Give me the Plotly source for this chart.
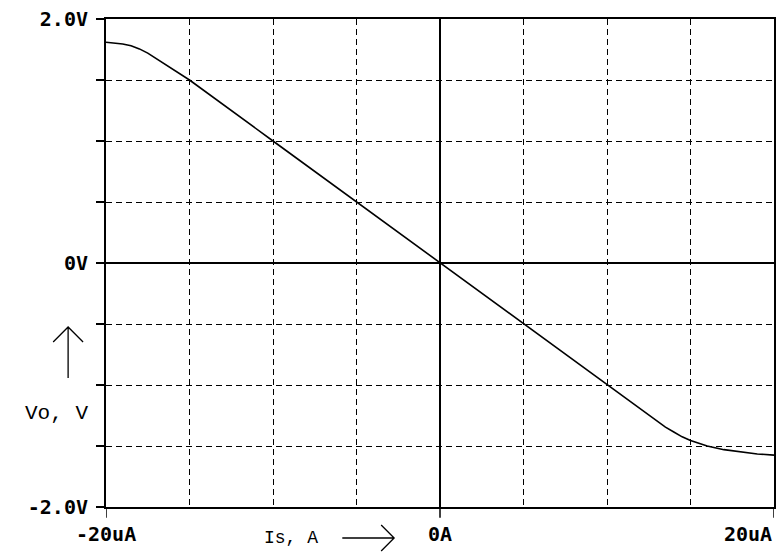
import plotly.graph_objects as go

# Data (Is in uA, Vo in V)
is_ua = [-20, -19.5, -19, -18.5, -18, -17.5, -17, -16.5, -16, -15.5, -15, -10, -5, 0, 5, 10,
         12, 13, 13.5, 14, 14.5, 15, 15.5, 16, 17, 18, 19, 20]
vo_v = [1.81, 1.805, 1.795, 1.78, 1.755, 1.72, 1.675, 1.63, 1.585, 1.54, 1.50, 1.0, 0.5, 0.0, -0.5, -1.0,
        -1.2, -1.3, -1.345, -1.385, -1.425, -1.455, -1.48, -1.50, -1.53, -1.55, -1.565, -1.575]

x_ticks = [-20, -15, -10, -5, 0, 5, 10, 15, 20]
y_ticks = [-2.0, -1.5, -1.0, -0.5, 0.0, 0.5, 1.0, 1.5, 2.0]
y_ticktext = ["<b>-2.0V</b>", "", "", "", "<b>0V</b>", "", "", "", "<b>2.0V</b>"]
x_label_vals = [-20, 0, 20]
x_label_text = ["-20uA", "0A", "20uA"]

tick_font = dict(family="DejaVu Sans Mono", size=20, color="black")

fig = go.Figure()
fig.add_trace(go.Scatter(x=is_ua, y=vo_v, mode="lines",
                         line=dict(color="black", width=1.6),
                         showlegend=False, hoverinfo="skip"))

fig.update_layout(
    width=779, height=556,
    margin=dict(l=106, r=3, t=19, b=49),
    paper_bgcolor="white", plot_bgcolor="white",
    xaxis=dict(range=[-20, 20], tickvals=x_ticks, ticktext=[""] * len(x_ticks),
               showgrid=True, gridcolor="black", gridwidth=1.2, griddash="6px,4px",
               showline=True, linecolor="black", linewidth=2, mirror=True,
               zeroline=True, zerolinecolor="black", zerolinewidth=1.5,
               ticks="", fixedrange=True),
    yaxis=dict(range=[-2, 2], tickvals=y_ticks, ticktext=y_ticktext,
               showgrid=True, gridcolor="black", gridwidth=1.2, griddash="6px,4px",
               showline=True, linecolor="black", linewidth=2, mirror=True,
               zeroline=True, zerolinecolor="black", zerolinewidth=1.5,
               ticks="outside", ticklen=8, tickwidth=1.5, tickcolor="black",
               tickfont=tick_font, ticklabelstandoff=4, fixedrange=True),
)

# x tick marks (labelled positions only) and labels
for v, t in zip(x_label_vals, x_label_text):
    fig.add_shape(type="line", xref="x", yref="paper", x0=v, x1=v, y0=0, y1=-0.022,
                  line=dict(color="black", width=1.5))
    anchor = "right" if v == 20 else "center"
    fig.add_annotation(x=v, y=-0.026, xref="x", yref="paper", text="<b>%s</b>" % t,
                       showarrow=False, xanchor=anchor, yanchor="top",
                       font=dict(family="DejaVu Sans Mono", size=20, color="black"))

# Axis titles
fig.add_annotation(x=(292 - 106) / 670, y=(507 - 538) / 488, xref="paper", yref="paper",
                   text="Is, A", showarrow=False, xanchor="center", yanchor="middle",
                   font=dict(family="Liberation Mono", size=18, color="black"))
fig.add_annotation(x=(56 - 106) / 670, y=(507 - 413) / 488, xref="paper", yref="paper",
                   text="Vo, V", showarrow=False, xanchor="center", yanchor="middle",
                   font=dict(family="Liberation Mono", size=21, color="black"))

def px(xp):
    return (xp - 106) / 670

def py(yp):
    return (507 - yp) / 488

# horizontal arrow
fig.add_shape(type="path", xref="paper", yref="paper",
              path="M %f,%f L %f,%f M %f,%f L %f,%f L %f,%f" % (
                  px(343), py(538), px(395), py(538),
                  px(382), py(525), px(395), py(538), px(382), py(551)),
              line=dict(color="black", width=1.3))
# vertical arrow
fig.add_shape(type="path", xref="paper", yref="paper",
              path="M %f,%f L %f,%f M %f,%f L %f,%f L %f,%f" % (
                  px(68), py(378), px(68), py(327),
                  px(53), py(342), px(68), py(327), px(83), py(342)),
              line=dict(color="black", width=1.3))

fig.write_html("out.html")
